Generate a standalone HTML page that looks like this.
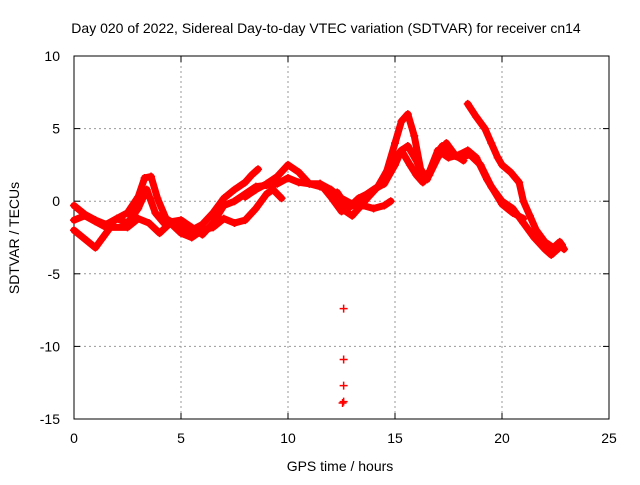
<!DOCTYPE html>
<html><head><meta charset="utf-8"><style>
body{margin:0;background:#fff}
svg text{font-family:"Liberation Sans",sans-serif;font-size:14px;fill:#000}
</style></head><body>
<svg id="chart" width="640" height="480" viewBox="0 0 640 480">
<rect width="640" height="480" fill="#fff"/>
<g id="grid"></g>
<g id="axes"></g>
<g id="series"></g>
<text x="326" y="33" text-anchor="middle">Day 020 of 2022, Sidereal Day-to-day VTEC variation (SDTVAR) for receiver cn14</text>
<text x="340" y="471" text-anchor="middle">GPS time / hours</text>
<text x="0" y="0" transform="translate(19,238) rotate(-90)" text-anchor="middle">SDTVAR / TECUs</text>
</svg>
<script>
const xTicks=[0,5,10,15,20,25];
const yTicks=[10,5,0,-5,-10,-15];
const trace1=[[0,-0.3],[0.5,-0.9],[1,-1.3],[1.5,-1.6],[2,-1.2],[2.5,-0.8],[3,0.3],[3.3,1.6],[3.6,1.7],[3.9,0.2],[4.3,-1.2],[5,-1.8],[5.5,-2],[6,-1.6],[6.5,-0.8],[7,0.2],[7.5,0.8],[8,1.3],[8.3,1.8],[8.6,2.2]];
const trace2=[[0,-1.3],[0.5,-1.0],[1,-1.4],[1.5,-1.8],[2,-1.2],[2.5,-1.5],[3,-0.5],[3.4,0.8],[3.8,-0.8],[4.2,-1.5],[5,-1.3],[5.5,-1.8],[6,-2.3],[6.5,-1.5],[7,-0.3],[7.5,0],[8,0.5],[8.5,1.0],[9,1.1],[9.5,1.2],[10,1.6],[10.5,1.3],[11,1.2],[11.5,1.0],[12,0.8],[12.5,0.2],[13,-0.2],[13.5,0.3],[14,0.8],[14.5,1.2],[15,2.5],[15.3,3.5],[15.6,3.8],[16,2.8],[16.3,1.7],[16.6,2.0],[17,3.5],[17.5,3.0],[18,3.2],[18.4,3.5],[18.8,3.0],[19.3,1.5],[20,-0.2],[20.5,-0.8],[21,-1.2]];
const trace3=[[0,-2.0],[0.5,-2.6],[1,-3.2],[1.3,-2.6],[1.7,-1.8],[2.5,-1.8],[3,-1.2],[3.5,-1.5],[4,-2.2],[4.5,-1.5],[5,-2.2],[5.5,-2.5],[6,-2.0],[6.5,-1.8],[7,-1.2],[7.5,-1.5],[8,-1.3],[8.5,-0.5],[9,0.5],[9.3,0.8],[9.7,0.2]];
const trace4=[[8,0.3],[8.5,0.8],[9,1.2],[9.5,1.7],[10,2.5],[10.5,2.0],[11,1.2],[11.5,1.2],[12,0.8],[12.5,-0.5],[13,-1.0],[13.3,-0.5],[13.7,0.2],[14.2,1.0],[14.6,2.0],[15,4],[15.3,5.5],[15.6,6],[15.9,4.5],[16.2,2.2],[16.5,1.5],[16.8,2.5],[17.2,3.8],[17.6,3.2],[18,3],[18.5,3.2],[19,2.5],[19.5,1.0],[20,0],[20.5,-0.5],[21,-1.5],[21.5,-2.5],[22,-3.3],[22.3,-3.7],[22.6,-3.3],[22.8,-3.0]];
const trace5=[[18.4,6.7],[18.8,5.8],[19.2,5],[19.5,4],[19.8,3],[20,2.5],[20.4,2],[20.8,1.3],[21,0],[21.3,-1],[21.6,-2],[22,-2.8],[22.4,-3.2],[22.7,-2.8],[22.9,-3.3]];
const trace6=[[12.3,0.6],[12.8,-0.5],[13.3,0.2],[13.7,0.5],[14.2,1],[14.7,2.3],[15,3],[15.3,3.5],[15.7,2.5],[16,1.8],[16.3,1.3],[16.6,1.8],[17,3],[17.4,4],[17.8,3.2],[18.2,2.8]];
const trace7=[[11.5,1.2],[12,0.3],[12.5,-0.7],[13,-0.3],[13.5,-0.3],[14,-0.5],[14.5,-0.3],[14.8,0]];
const outliers=[[12.6,-7.4],[12.6,-10.9],[12.6,-12.7],[12.6,-13.8],[12.55,-13.9]];
const X0=74,X1=609,Y0=419,Y1=56;
const sx=v=>X0+(v-0)/(25-0)*(X1-X0);
const sy=v=>Y0-(v+15)/(25)*(Y0-Y1);
const NS="http://www.w3.org/2000/svg";
function mk(t,a,p){const e=document.createElementNS(NS,t);for(const k in a)e.setAttribute(k,a[k]);p.appendChild(e);return e;}
const grid=document.getElementById('grid'),axes=document.getElementById('axes'),ser=document.getElementById('series');
xTicks.forEach(v=>{const x=sx(v);
 if(v>0&&v<25){const g=mk('line',{x1:x,y1:Y1,x2:x,y2:Y0,stroke:'#999','stroke-dasharray':'2,3'},grid);
 
 }
 mk('line',{x1:x,y1:Y0,x2:x,y2:Y0-6,stroke:'#000'},axes);mk('line',{x1:x,y1:Y1,x2:x,y2:Y1+6,stroke:'#000'},axes);
 const t=mk('text',{x:x,y:Y0+24,'text-anchor':'middle'},axes);t.textContent=v;
 
 });
yTicks.forEach(v=>{const y=sy(v);
 if(v>-15&&v<10){const g=mk('line',{x1:X0,y1:y,x2:X1,y2:y,stroke:'#999','stroke-dasharray':'2,3'},grid);
 
 }
 mk('line',{x1:X0,y1:y,x2:X0+6,y2:y,stroke:'#000'},axes);mk('line',{x1:X1,y1:y,x2:X1-6,y2:y,stroke:'#000'},axes);
 const t=mk('text',{x:X0-14,y:y+5,'text-anchor':'end'},axes);t.textContent=v;
 
 });
mk('rect',{x:X0,y:Y1,width:X1-X0,height:Y0-Y1,fill:'none',stroke:'#000'},axes);
function plus(x,y){const p=mk('path',{d:`M${x-4},${y}h8M${x},${y-4}v8`,stroke:'#f00','stroke-width':1.5},ser);
 
 }
[trace1,trace2,trace3,trace4,trace5,trace6,trace7].forEach((tr,i)=>{
 const pl=mk('polyline',{points:tr.map(d=>sx(d[0])+','+sy(d[1])).join(' '),fill:'none',stroke:'#f00','stroke-width':7,'stroke-linejoin':'round','stroke-linecap':'round'},ser);
 
 
 tr.forEach(d=>plus(sx(d[0]),sy(d[1])));});
outliers.forEach(d=>plus(sx(d[0]),sy(d[1])));
</script>
</body></html>
